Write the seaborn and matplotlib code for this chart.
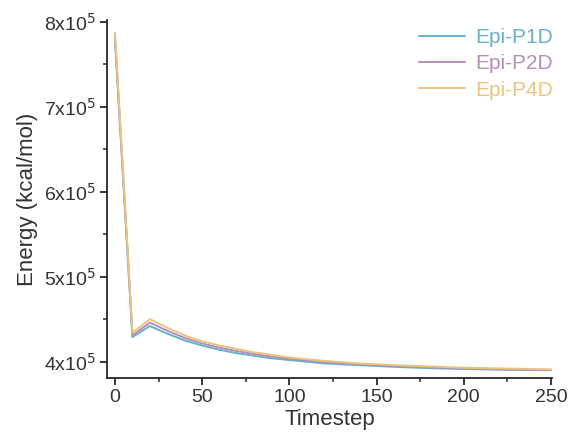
import numpy as np
import pandas as pd
import matplotlib
matplotlib.use('Agg')
import matplotlib.pyplot as plt
from matplotlib.ticker import MultipleLocator
import seaborn as sns

# timesteps and energies
timestep = [0, 10, 20, 30, 40, 50, 60, 70, 80, 90, 100, 120, 140, 160, 180, 200, 225, 250]
p1d = [7.78e5, 4.29e5, 4.42e5, 4.33e5, 4.25e5, 4.19e5, 4.14e5, 4.10e5, 4.07e5, 4.04e5,
       4.02e5, 3.98e5, 3.96e5, 3.94e5, 3.925e5, 3.915e5, 3.905e5, 3.90e5]
p2d = [7.82e5, 4.31e5, 4.46e5, 4.365e5, 4.28e5, 4.215e5, 4.165e5, 4.125e5, 4.09e5, 4.06e5,
       4.035e5, 3.995e5, 3.97e5, 3.95e5, 3.935e5, 3.92e5, 3.91e5, 3.903e5]
p4d = [7.87e5, 4.34e5, 4.50e5, 4.40e5, 4.31e5, 4.24e5, 4.19e5, 4.15e5, 4.11e5, 4.08e5,
       4.05e5, 4.01e5, 3.98e5, 3.96e5, 3.945e5, 3.93e5, 3.92e5, 3.91e5]
names = ['Epi-P1D', 'Epi-P2D', 'Epi-P4D']
colors = ['#66b0c8', '#b38fba', '#eac47f']

df = pd.DataFrame({'Timestep': timestep * 3,
                   'Energy': p1d + p2d + p4d,
                   'System': np.repeat(names, len(timestep))})

sns.set_style('ticks')
plt.rcParams['font.family'] = ['Liberation Sans', 'DejaVu Sans']

fig = plt.figure(figsize=(5.69, 4.43), dpi=100)
ax = fig.add_axes([0.188, 0.147, 0.782, 0.808])
sns.lineplot(data=df, x='Timestep', y='Energy', hue='System', palette=colors,
             linewidth=1.4, ax=ax)

ax.set_xlim(-4.6, 250.6)
ax.set_ylim(3.81e5, 8.02e5)
ax.set_xticks([0, 50, 100, 150, 200, 250])
ax.xaxis.set_minor_locator(MultipleLocator(25))
yt = [4e5, 5e5, 6e5, 7e5, 8e5]
ax.set_yticks(yt)
ax.set_yticklabels([f'{int(v/1e5)}x10$^5$' for v in yt])
ax.yaxis.set_minor_locator(MultipleLocator(0.5e5))
ax.tick_params(which='major', length=5, width=1.3, labelsize=14, labelcolor='#333333', pad=3)
ax.tick_params(which='minor', length=3, width=1.1)
for s in ['top', 'right']:
    ax.spines[s].set_visible(False)
for s in ['left', 'bottom']:
    ax.spines[s].set_linewidth(1.3)

ax.set_xlabel('Timestep', fontsize=16, color='#333333', labelpad=2)
ax.set_ylabel('Energy (kcal/mol)', fontsize=16, color='#333333', labelpad=4)

leg = ax.legend(loc='upper right', frameon=False, fontsize=15, handlelength=2.2,
                handletextpad=0.5, bbox_to_anchor=(1.045, 1.03), labelspacing=0.35)
for t, c in zip(leg.get_texts(), colors):
    t.set_color(c)

plt.savefig('out.png', dpi=100)
